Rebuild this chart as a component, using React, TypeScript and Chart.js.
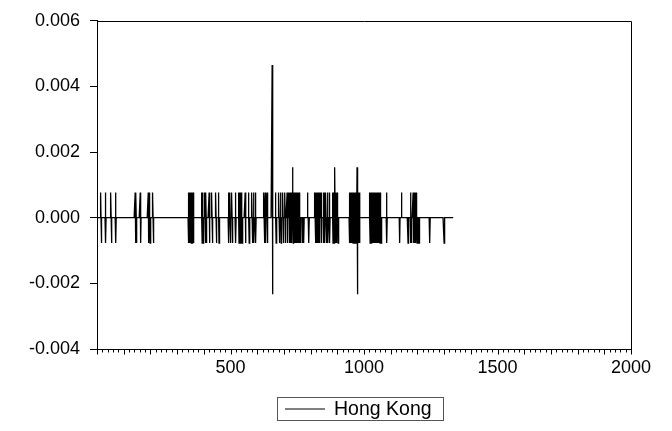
import React, { useEffect, useRef } from "react";
import { Chart, registerables } from "chart.js";

Chart.register(...registerables);

// ---- data ----
const seriesName = "Hong Kong";
const lastObs = 1335;
const smallMove = 0.00077;
// observations where the series ticks up then back down (up at i, down at i+2)
const pairStarts = [
  14, 31, 52, 69, 143, 146, 162, 192, 197, 209,
  342, 345, 348, 351, 354, 357, 360, 392, 396, 404, 408, 420, 430, 445, 455,
  492, 498, 505, 518, 530, 534, 538, 542, 555, 568, 580, 586, 593, 625, 630, 637, 669,
  681, 688, 696, 704, 712, 719, 723, 727, 738, 742, 746, 750, 754, 757,
  816, 820, 824, 828, 832, 839, 848, 851, 857, 863, 870, 882, 886, 895, 899, 901,
  945, 949, 953, 957, 961, 965, 969, 978, 982,
  1021, 1025, 1029, 1033, 1037, 1041, 1045, 1049, 1053, 1058, 1062, 1084,
  1174, 1184, 1188, 1192, 1197,
];
const upOnly = [788, 1140];
const downOnly = [763, 769, 775, 794, 1134, 1165, 1178, 1206, 1247, 1300];
const bigIdx = [656, 658, 733, 735, 891, 893, 974, 976];
const bigVal = [0.00465, -0.00233, 0.00154, -0.00077, 0.00154, -0.00077, 0.00154, -0.00233];

const yTicks = [-0.004, -0.002, 0, 0.002, 0.004, 0.006];
const xLabels = [500, 1000, 1500, 2000];

function buildSeries() {
  const v: number[] = new Array(lastObs + 1).fill(0);
  pairStarts.forEach((i) => {
    v[i] = smallMove;
    v[i + 2] = -smallMove;
  });
  upOnly.forEach((i) => (v[i] = smallMove));
  downOnly.forEach((i) => (v[i] = -smallMove));
  bigIdx.forEach((i, k) => (v[i] = bigVal[k]));
  const pts: { x: number; y: number }[] = [];
  for (let i = 1; i <= lastObs; i++) pts.push({ x: i, y: v[i] });
  return pts;
}

const FONT = "'Liberation Sans', Arial, Helvetica, sans-serif";

export default function App() {
  const ref = useRef<HTMLCanvasElement | null>(null);
  useEffect(() => {
    document.body.style.margin = "0";
    const canvas = ref.current!;
    const framePlugin = {
      id: "frame",
      afterDraw(chart: any) {
        const ctx = chart.ctx as CanvasRenderingContext2D;
        const a = chart.chartArea;
        const xs = chart.scales.x;
        ctx.save();
        ctx.strokeStyle = "#000";
        ctx.lineWidth = 1;
        ctx.beginPath();
        const L = Math.round(a.left) + 0.5;
        const R = Math.round(a.right) + 0.5;
        const T = Math.round(a.top) + 0.5;
        const B = Math.round(a.bottom) + 0.5;
        ctx.moveTo(L, T);
        ctx.lineTo(R, T);
        ctx.lineTo(R, B);
        ctx.stroke();
        // x minor / major ticks
        ctx.beginPath();
        for (let v = 0; v <= 2000; v += 20) {
          const px = Math.round(xs.getPixelForValue(v)) + 0.5;
          const len = v % 100 === 0 ? 5 : 3;
          ctx.moveTo(px, B);
          ctx.lineTo(px, B + len);
        }
        ctx.stroke();
        // legend
        const bx = 277.5, by = 397.5, bw = 166, bh = 23;
        ctx.strokeStyle = "#555";
        ctx.strokeRect(bx, by, bw, bh);
        ctx.strokeStyle = "#000";
        ctx.beginPath();
        ctx.moveTo(285, by + bh / 2);
        ctx.lineTo(325, by + bh / 2);
        ctx.stroke();
        ctx.fillStyle = "#000";
        ctx.font = `19.5px ${FONT}`;
        ctx.textBaseline = "middle";
        ctx.fillText(seriesName, 334, by + bh / 2 + 1);
        ctx.restore();
      },
    };
    const chart = new Chart(canvas, {
      type: "line",
      data: {
        datasets: [
          {
            label: seriesName,
            data: buildSeries(),
            borderColor: "#000",
            borderWidth: 1.3,
            pointRadius: 0,
            tension: 0,
            fill: false,
          },
        ],
      },
      options: {
        animation: false,
        responsive: false,
        parsing: false,
        normalized: true,
        layout: { padding: { top: 18, right: 41, left: 0, bottom: 0 } },
        plugins: { legend: { display: false }, tooltip: { enabled: false } },
        scales: {
          x: {
            type: "linear",
            min: 0,
            max: 2000,
            afterBuildTicks: (s: any) => {
              s.ticks = xLabels.map((v) => ({ value: v }));
            },
            afterFit: (s: any) => {
              s.height = 82;
            },
            grid: { display: false },
            border: { display: true, color: "#000", width: 1 },
            ticks: {
              color: "#000",
              font: { family: FONT, size: 18 },
              padding: 0,
              maxRotation: 0,
              autoSkip: false,
              callback: (v: any) => String(v),
            },
          },
          y: {
            min: -0.004,
            max: 0.006,
            afterBuildTicks: (s: any) => {
              s.ticks = yTicks.map((v) => ({ value: v }));
            },
            afterFit: (s: any) => {
              s.width = 97;
            },
            grid: {
              drawOnChartArea: false,
              drawTicks: true,
              tickLength: 7,
              color: "#000",
            },
            border: { display: true, color: "#000", width: 1 },
            ticks: {
              color: "#000",
              font: { family: FONT, size: 18 },
              padding: 10,
              callback: (v: any) => Number(v).toFixed(3),
            },
          },
        },
      },
      plugins: [framePlugin],
    });
    return () => chart.destroy();
  }, []);
  return <canvas ref={ref} width={672} height={431} style={{ display: "block" }} />;
}
